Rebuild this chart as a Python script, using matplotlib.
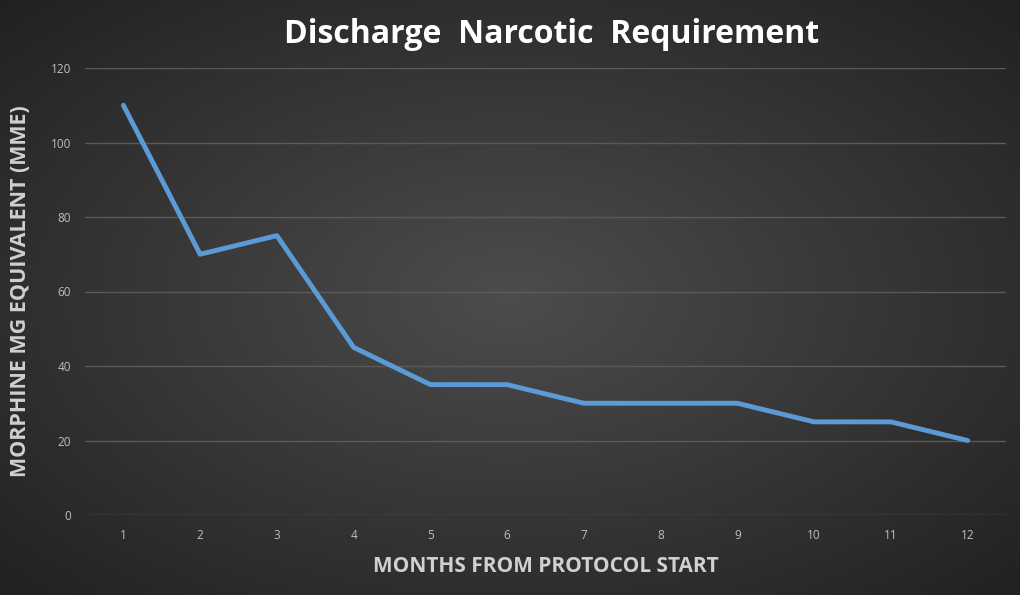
import matplotlib.pyplot as plt
import numpy as np

months = [1, 2, 3, 4, 5, 6, 7, 8, 9, 10, 11, 12]
mme = [110, 70, 75, 45, 35, 35, 30, 30, 30, 25, 25, 20]
y_ticks = [0, 20, 40, 60, 80, 100, 120]

plt.rcParams['font.family'] = ['Open Sans', 'DejaVu Sans']

fig = plt.figure(figsize=(10.24, 6), dpi=100)
fig.patch.set_facecolor('white')

# radial gradient backdrop
bg = fig.add_axes([0, 5 / 600, 1020 / 1024, 595 / 600])
gx, gy = np.meshgrid(np.linspace(-1, 1, 400), np.linspace(-1, 1, 240))
r = np.sqrt(gx ** 2 + gy ** 2) / np.sqrt(2)
shade = 0.30 - 0.17 * r
bg.imshow(np.dstack([shade] * 3), aspect='auto', extent=[0, 1, 0, 1])
bg.axis('off')

ax = fig.add_axes([85 / 1024, 85 / 600, 921 / 1024, 447 / 600])
ax.patch.set_alpha(0)
ax.plot(months, mme, color='#5b9bd5', lw=3.5, solid_capstyle='round', solid_joinstyle='round', zorder=3)

ax.set_xlim(0.5, 12.5)
ax.set_ylim(0, 120)
ax.set_xticks(months)
ax.set_yticks(y_ticks)
ax.grid(axis='y', color='#5a5a5a', lw=1)
ax.set_axisbelow(True)
for s in ax.spines.values():
    s.set_visible(False)
ax.tick_params(length=0, colors='#bfbfbf', labelsize=8.5, pad=10)

ax.set_xlabel('MONTHS FROM PROTOCOL START', color='#d0d0d0', fontsize=15,
              fontweight='bold', labelpad=10)
ax.set_ylabel('MORPHINE MG EQUIVALENT (MME)', color='#d0d0d0', fontsize=15.5,
              fontweight='bold', labelpad=14)
fig.text(0.539, 0.943, 'Discharge  Narcotic  Requirement', color='white', fontsize=23,
         fontweight='bold', ha='center', va='center')

fig.savefig('out.png', dpi=100)
